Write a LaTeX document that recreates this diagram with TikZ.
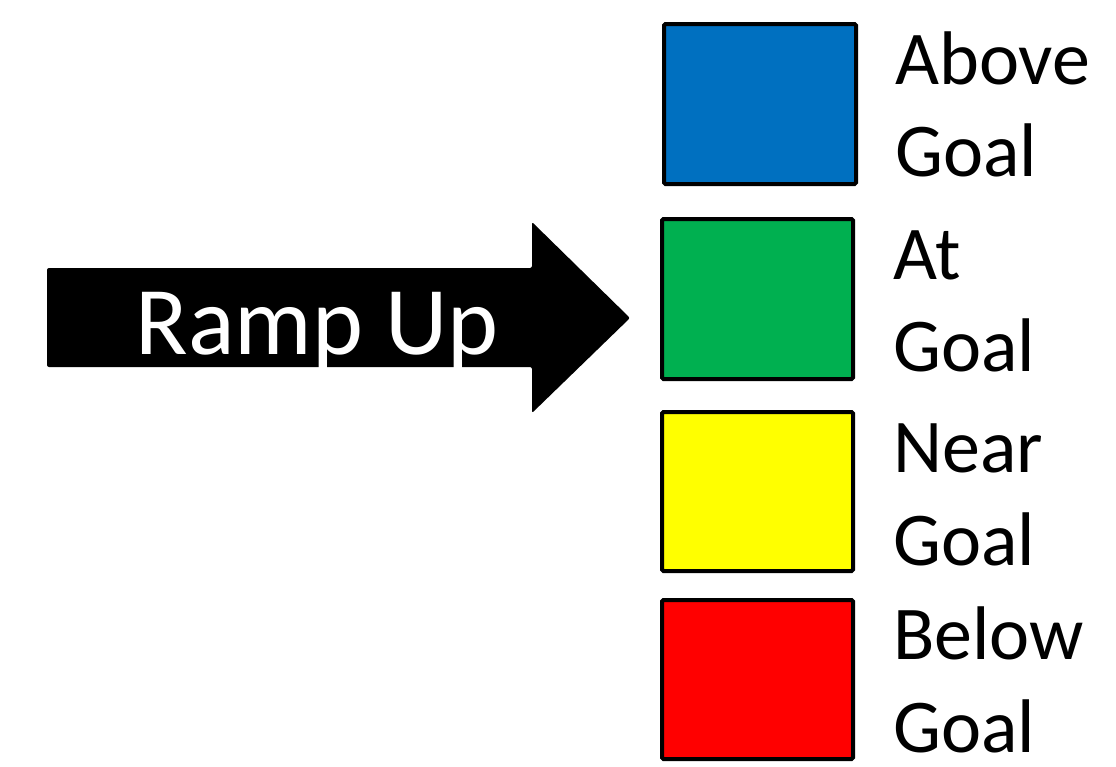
\documentclass[tikz,border=0pt]{standalone}
\usepackage{fontspec}
\setmainfont{Carlito}
\definecolor{goalblue}{HTML}{0070C0}
\definecolor{goalgreen}{HTML}{00B050}
\definecolor{goalyellow}{HTML}{FFFF00}
\definecolor{goalred}{HTML}{FF0000}
\tikzset{
  swatch/.style={draw=black, line width=4pt, rounded corners=1.5pt, inner sep=0pt, minimum width=191pt, minimum height=160pt},
  lbl/.style={anchor=base west, inner sep=0pt, text depth=0pt, font=\fontsize{76}{92}\selectfont},
}
\begin{document}
\begin{tikzpicture}[x=1pt,y=-1pt]
\useasboundingbox (0,0) rectangle (1116,766);
% arrow
\fill[black, rounded corners=2pt] (47,268) -- (532,268) -- (532,222) -- (630,318) -- (532,413) -- (532,367) -- (47,367) -- cycle;
\node[anchor=base, inner sep=0pt, text=white, font=\fontsize{97}{110}\selectfont] (ramp) at (317,354) {Ramp Up};
% swatches
\node[swatch, fill=goalblue, minimum width=192pt] (blue) at (760,104) {};
\node[swatch, fill=goalgreen] (green) at (757.5,299) {};
\node[swatch, fill=goalyellow, minimum height=159pt] (yellow) at (757.5,491.5) {};
\node[swatch, fill=goalred, minimum height=159pt] (red) at (757.5,679.5) {};
% labels
\node[lbl] (above1) at (895,84) {Above};
\node[lbl] (above2) at (895,176) {Goal};
\node[lbl] (at1) at (893,279) {At};
\node[lbl] (at2) at (893,371) {Goal};
\node[lbl] (near1) at (893,472) {Near};
\node[lbl] (near2) at (893,565) {Goal};
\node[lbl] (below1) at (893,659) {Below};
\node[lbl] (below2) at (893,752) {Goal};
\end{tikzpicture}
\end{document}
